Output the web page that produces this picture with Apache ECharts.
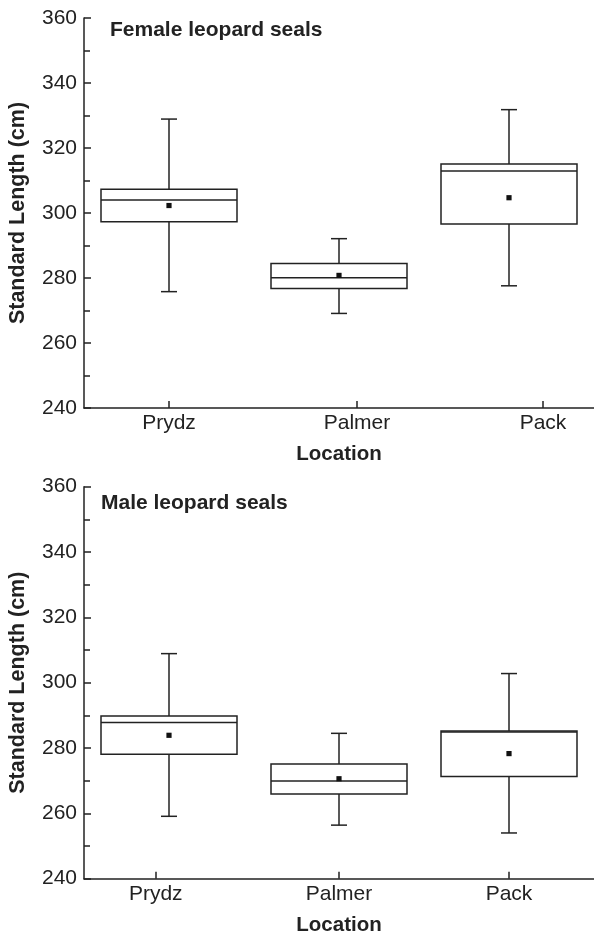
<!DOCTYPE html>
<html>
<head>
<meta charset="utf-8">
<title>Leopard seal standard length by location</title>
<script src="https://cdn.jsdelivr.net/npm/echarts@6/dist/echarts.min.js"></script>
<style>
  html, body { margin: 0; padding: 0; background: #fff; }
  #chart { width: 594px; height: 933px; }
</style>
</head>
<body>
<div id="chart"></div>
<script>
// Sampling locations (box index 0, 1, 2 on the x axis)
const locations = ['Prydz', 'Palmer', 'Pack'];

// Female standard length (cm): whisker ends, quartiles, median, mean
const femaleLow    = [275.8, 269.1, 277.6];
const femaleQ1     = [297.3, 276.8, 296.6];
const femaleMedian = [304.0, 280.1, 312.9];
const femaleQ3     = [307.3, 284.5, 315.1];
const femaleHigh   = [328.9, 292.1, 331.8];
const femaleMean   = [302.3, 280.8, 304.7];

// Male standard length (cm)
const maleLow    = [259.1, 256.4, 254.0];
const maleQ1     = [278.1, 265.9, 271.3];
const maleMedian = [287.8, 269.9, 284.9];
const maleQ3     = [289.8, 275.1, 285.2];
const maleHigh   = [308.9, 284.5, 302.8];
const maleMean   = [283.9, 270.6, 278.3];

// Where each location label and tick sits along the x axis, per panel
const femaleTickAt = [0.0, 1.106, 2.2];
const maleTickAt   = [-0.078, 1.0, 2.0];

const INK = '#222';
const FONT = "'Liberation Sans', Arial, Helvetica, sans-serif";

function rows(low, q1, med, q3, high, mean) {
  return locations.map((_, i) => [i, low[i], q1[i], med[i], q3[i], high[i], mean[i]]);
}

// Box: quartile rectangle, median bar, whiskers with short caps, mean square
function renderBox(params, api) {
  const x = api.value(0);
  const p = (v) => api.coord([x, v]);
  const cx = p(api.value(3))[0];
  const yLo = p(api.value(1))[1];
  const yQ1 = p(api.value(2))[1];
  const yMed = p(api.value(3))[1];
  const yQ3 = p(api.value(4))[1];
  const yHi = p(api.value(5))[1];
  const yMean = p(api.value(6))[1];
  const half = api.size([1, 0])[0] * 0.4;
  const cap = 8;
  const line = { stroke: INK, lineWidth: 1.5, fill: null };
  return {
    type: 'group',
    children: [
      { type: 'line', shape: { x1: cx, y1: yQ3, x2: cx, y2: yHi }, style: line },
      { type: 'line', shape: { x1: cx, y1: yQ1, x2: cx, y2: yLo }, style: line },
      { type: 'line', shape: { x1: cx - cap, y1: yHi, x2: cx + cap, y2: yHi }, style: line },
      { type: 'line', shape: { x1: cx - cap, y1: yLo, x2: cx + cap, y2: yLo }, style: line },
      { type: 'rect', shape: { x: cx - half, y: yQ3, width: half * 2, height: yQ1 - yQ3 },
        style: { stroke: INK, lineWidth: 1.5, fill: '#fff' } },
      { type: 'line', shape: { x1: cx - half, y1: yMed, x2: cx + half, y2: yMed }, style: line },
      { type: 'rect', shape: { x: cx - 2.6, y: yMean - 2.6, width: 5.2, height: 5.2 },
        style: { fill: '#111', stroke: null } }
    ]
  };
}

function xAxisFor(gridIndex, tickAt) {
  return {
    type: 'value', gridIndex, min: -0.5, max: 2.5,
    name: 'Location', nameLocation: 'middle', nameGap: 36,
    nameTextStyle: { fontFamily: FONT, fontSize: 20.5, fontWeight: 'bold', color: INK },
    axisLine: { show: true, onZero: false, lineStyle: { color: INK, width: 1.5 } },
    axisTick: { show: true, inside: true, length: 7, customValues: tickAt, lineStyle: { color: INK, width: 1.5 } },
    axisLabel: {
      show: true, margin: 5, customValues: tickAt,
      fontFamily: FONT, fontSize: 21, color: INK,
      formatter: (v) => {
        const i = tickAt.findIndex((t) => Math.abs(t - v) < 1e-6);
        return i >= 0 ? locations[i] : '';
      }
    },
    splitLine: { show: false }
  };
}

function yAxisFor(gridIndex) {
  return {
    type: 'value', gridIndex, min: 240, max: 360, interval: 20,
    name: 'Standard Length (cm)', nameLocation: 'middle', nameGap: 55,
    nameTextStyle: { fontFamily: FONT, fontSize: 21.5, fontWeight: 'bold', color: INK },
    axisLine: { show: true, onZero: false, lineStyle: { color: INK, width: 1.5 } },
    axisTick: { show: true, inside: true, length: 7, lineStyle: { color: INK, width: 1.5 } },
    minorTick: { show: true, splitNumber: 2, length: 6, lineStyle: { color: INK, width: 1.5 } },
    axisLabel: { margin: 7, fontFamily: FONT, fontSize: 21, color: INK },
    splitLine: { show: false }
  };
}

const chart = echarts.init(document.getElementById('chart'), null, { renderer: 'canvas' });
chart.setOption({
  backgroundColor: '#fff',
  animation: false,
  title: [
    { text: 'Female leopard seals', left: 110, top: 20, padding: 0,
      textStyle: { fontFamily: FONT, fontSize: 21, fontWeight: 'bold', color: INK } },
    { text: 'Male leopard seals', left: 101, top: 493, padding: 0,
      textStyle: { fontFamily: FONT, fontSize: 21, fontWeight: 'bold', color: INK } }
  ],
  grid: [
    { left: 84, top: 18, width: 510, height: 390, outerBoundsMode: 'none', containLabel: false },
    { left: 84, top: 486.7, width: 510, height: 392, outerBoundsMode: 'none', containLabel: false }
  ],
  xAxis: [xAxisFor(0, femaleTickAt), xAxisFor(1, maleTickAt)],
  yAxis: [yAxisFor(0), yAxisFor(1)],
  series: [
    {
      name: 'Female', type: 'custom', xAxisIndex: 0, yAxisIndex: 0,
      renderItem: renderBox, encode: { x: 0, y: [1, 2, 3, 4, 5] },
      data: rows(femaleLow, femaleQ1, femaleMedian, femaleQ3, femaleHigh, femaleMean)
    },
    {
      name: 'Male', type: 'custom', xAxisIndex: 1, yAxisIndex: 1,
      renderItem: renderBox, encode: { x: 0, y: [1, 2, 3, 4, 5] },
      data: rows(maleLow, maleQ1, maleMedian, maleQ3, maleHigh, maleMean)
    }
  ]
});
</script>
</body>
</html>
